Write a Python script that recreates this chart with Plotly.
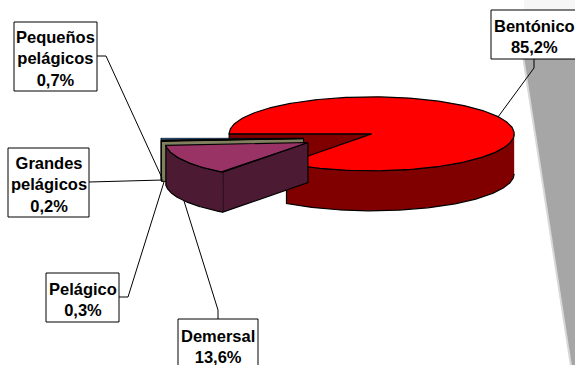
import numpy as np
import plotly.graph_objects as go

# Values of the pie, clockwise from the left edge of the big slice
categories = ["Bentónico", "Demersal", "Pelágico", "Grandes pelágicos", "Pequeños pelágicos"]
percents = [85.2, 13.6, 0.3, 0.2, 0.7]
top_colors = ["#ff0000", "#993366", "#80805f", "#000000", "#0066cc"]
side_colors = ["#800000", "#4d1a33", "#80805f", "#000000", "#0066cc"]
edge_widths = [1.2, 1.2, 1, 0.5, 0.5]

# Boxes: label lines, x0, y0, x1, y1 in pixels
box_text = ["<b>Pequeños<br>pelágicos<br>0,7%</b>", "<b>Grandes<br>pelágicos<br>0,2%</b>", "<b>Pelágico<br>0,3%</b>",
            "<b>Demersal<br>13,6%</b>", "<b>Bentónico<br>85,2%</b>"]
box_rect = [(14, 22, 97, 91), (8, 148, 89, 217), (46, 273, 119, 322), (178, 319, 258, 369), (491, 10, 577, 59)]
leaders = [[(97, 56), (106, 56), (162, 178)],
           [(89, 182), (163, 180)],
           [(119, 297), (128, 297), (164, 182)],
           [(218, 319), (218, 310), (184, 201)],
           [(534, 59), (534, 68), (498, 117)]]

# Pie geometry
CX, CY = 339.5, 138
RX, RY = 142.5, 37
DEPTH = 40
EXPLODE = 36
START = 180.0

fig = go.Figure()


def poly(xs, ys, color, width):
    fig.add_trace(go.Scatter(x=xs, y=ys, mode="lines", fill="toself", fillcolor=color,
                             line=dict(color="#000000", width=width), hoverinfo="skip", showlegend=False))


def flat(xs, ys, color):
    fig.add_trace(go.Scatter(x=xs, y=ys, mode="lines", fill="toself", fillcolor=color,
                             line=dict(width=0), hoverinfo="skip", showlegend=False))


# Grey wedge at the right edge, faint above the box
flat([524, 576, 576, 524], [0, 0, 11, 11], "#f6f6f6")
flat([515, 570, 576, 576], [11, 366, 366, 11], "#d8d8d8")
flat([517, 572, 576, 576], [11, 366, 366, 11], "#a6a6a6")

angle = START
slices = []
for pct, top, side, width in zip(percents, top_colors, side_colors, edge_widths):
    sweep = pct / 100 * 360
    slices.append((angle, angle + sweep, top, side, width))
    angle += sweep


def draw_slice(a0, a1, top, side, width):
    mid = np.radians((a0 + a1) / 2)
    ax = CX + EXPLODE * np.cos(mid)
    ay = CY + EXPLODE * RY / RX * np.sin(mid)
    t = np.radians(np.linspace(a0, a1, 240))
    ex = ax + RX * np.cos(t)
    ey = ay + RY * np.sin(t)
    poly([ax, ex[0], ex[0], ax, ax], [ay, ey[0], ey[0] + DEPTH, ay + DEPTH, ay], side, width)
    # outer rim, only the part that faces the viewer
    for k in (0, 360):
        lo, hi = max(a0, k), min(a1, k + 180)
        if lo < hi:
            s = np.radians(np.linspace(lo, hi, 160))
            rx = ax + RX * np.cos(s)
            ry = ay + RY * np.sin(s)
            poly(list(rx) + list(rx[::-1]), list(ry) + list(ry[::-1] + DEPTH), side, width)
    poly([ax] + list(ex) + [ax], [ay] + list(ey) + [ay], top, width)


# back to front
draw_slice(*slices[0])
for s in slices[:1:-1]:
    draw_slice(*s)
draw_slice(*slices[1])

shapes = []
for pts in leaders:
    path = "M " + " L ".join(f"{x} {y}" for x, y in pts)
    shapes.append(dict(type="path", path=path, line=dict(color="#000000", width=1)))
for x0, y0, x1, y1 in box_rect:
    shapes.append(dict(type="rect", x0=x0, y0=y0, x1=x1, y1=y1, fillcolor="#ffffff",
                       line=dict(color="#000000", width=1)))

annotations = []
for txt, (x0, y0, x1, y1) in zip(box_text, box_rect):
    annotations.append(dict(x=(x0 + x1) / 2 if x1 < 575 else 534, y=(y0 + y1) / 2 + 2, text=txt, showarrow=False,
                            font=dict(family="Liberation Sans", size=16.5, color="#000000")))

fig.update_layout(
    width=575,
    height=365,
    margin=dict(l=0, r=0, t=0, b=0),
    paper_bgcolor="#ffffff",
    plot_bgcolor="#ffffff",
    shapes=shapes,
    annotations=annotations,
    showlegend=False,
    xaxis=dict(range=[0, 575], visible=False, fixedrange=True),
    yaxis=dict(range=[365, 0], visible=False, fixedrange=True),
)

fig.write_html("out.html", config=dict(displayModeBar=False),
               post_script="document.body.style.margin='0';document.documentElement.style.overflow='hidden';")
